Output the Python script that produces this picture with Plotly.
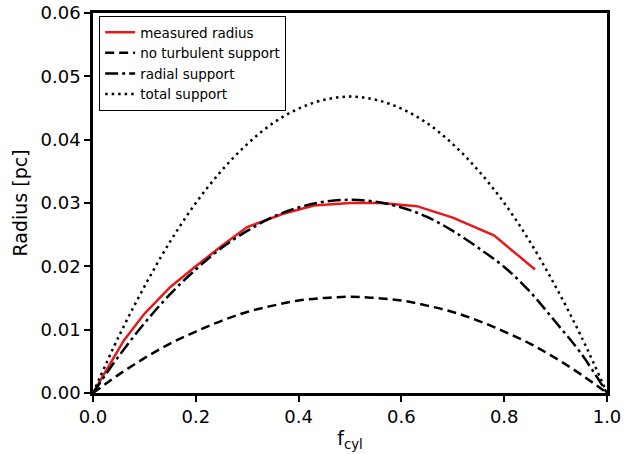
import plotly.graph_objects as go

# f_cyl grid for model curves
f_model = [0.0, 0.05, 0.10, 0.15, 0.20, 0.25, 0.30, 0.35, 0.40, 0.45, 0.50,
           0.55, 0.60, 0.65, 0.70, 0.75, 0.80, 0.85, 0.90, 0.95, 1.0]
r_no_turb = [0.0, 0.0029, 0.0055, 0.0078, 0.0097, 0.0114, 0.0128, 0.0138, 0.0146, 0.0150, 0.0152,
             0.0150, 0.0146, 0.0138, 0.0128, 0.0114, 0.0097, 0.0078, 0.0055, 0.0029, 0.0]
r_radial = [0.0, 0.0058, 0.0110, 0.0156, 0.0195, 0.0229, 0.0256, 0.0278, 0.0293, 0.0302, 0.0305,
            0.0302, 0.0293, 0.0278, 0.0256, 0.0229, 0.0199, 0.0160, 0.0112, 0.0062, 0.0]
r_total = [0.0, 0.0089, 0.0168, 0.0239, 0.0300, 0.0351, 0.0393, 0.0426, 0.0449, 0.0463, 0.0468,
           0.0463, 0.0449, 0.0426, 0.0393, 0.0351, 0.0300, 0.0239, 0.0168, 0.0089, 0.0]

# measured radius
f_meas = [0.0, 0.03, 0.06, 0.10, 0.15, 0.20, 0.25, 0.30, 0.37, 0.43, 0.50, 0.56, 0.63, 0.70, 0.78, 0.86]
r_meas = [0.0, 0.0041, 0.0083, 0.0125, 0.0167, 0.0200, 0.0232, 0.0262, 0.0283, 0.0296, 0.0300,
          0.0300, 0.0295, 0.0277, 0.0249, 0.0195]

x_ticks = [0.0, 0.2, 0.4, 0.6, 0.8, 1.0]
y_ticks = [0.00, 0.01, 0.02, 0.03, 0.04, 0.05, 0.06]

fig = go.Figure()
fig.add_trace(go.Scatter(x=f_meas, y=r_meas, mode="lines", name="measured radius",
                         line=dict(color="#e41a1c", width=2.5)))
fig.add_trace(go.Scatter(x=f_model, y=r_no_turb, mode="lines", name="no turbulent support",
                         line=dict(color="black", width=2.5, dash="9px,5px"), line_shape="spline"))
fig.add_trace(go.Scatter(x=f_model, y=r_radial, mode="lines", name="radial support",
                         line=dict(color="black", width=2.5, dash="13px,4px,3px,4px"), line_shape="spline"))
fig.add_trace(go.Scatter(x=f_model, y=r_total, mode="lines", name="total support",
                         line=dict(color="black", width=2.5, dash="2.5px,4px"), line_shape="spline"))

axis_common = dict(showline=True, linecolor="black", linewidth=2.5, mirror=True,
                   ticks="outside", ticklen=6, tickwidth=2, tickcolor="black",
                   showgrid=False, zeroline=False, automargin=False,
                   ticklabeloverflow="allow",
                   tickfont=dict(family="DejaVu Sans", size=18, color="black"))

fig.update_xaxes(range=[0, 1], tickvals=x_ticks, tickformat=".1f",
                 title=dict(text="f<sub>cyl</sub>", font=dict(family="DejaVu Sans", size=19, color="black"),
                            standoff=6),
                 **axis_common)
fig.update_yaxes(range=[0, 0.06], tickvals=y_ticks, tickformat=".2f",
                 title=dict(text="Radius [pc]", font=dict(family="DejaVu Sans", size=19, color="black"),
                            standoff=8),
                 **axis_common)

fig.update_layout(
    width=638, height=454,
    margin=dict(l=93, r=31, t=13, b=61),
    plot_bgcolor="white", paper_bgcolor="white",
    legend=dict(x=0.012, y=0.992, xanchor="left", yanchor="top",
                bordercolor="black", borderwidth=1, bgcolor="white",
                font=dict(family="DejaVu Sans", size=13.5, color="black"),
                tracegroupgap=0, itemwidth=30),
    showlegend=True,
)

fig.write_html("out.html", config={"displayModeBar": False},
               post_script="document.body.style.margin='0';document.body.style.overflow='hidden';")
